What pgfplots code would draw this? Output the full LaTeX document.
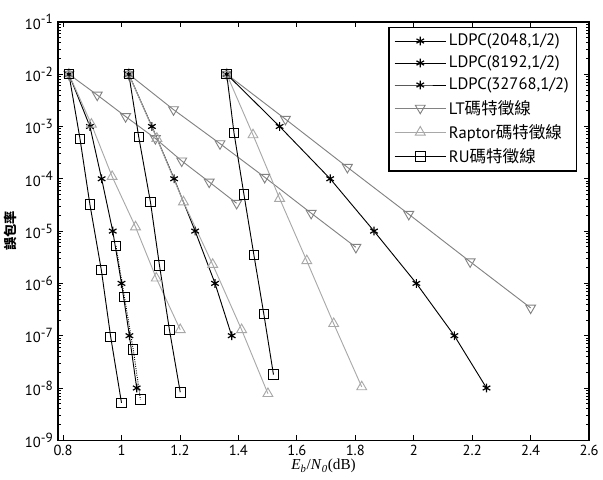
\documentclass[border=0pt]{standalone}
\usepackage{fontspec}
\setmainfont{PT Sans}
\newfontfamily\cjk{Noto Sans CJK TC}
\newfontfamily\serifit{Liberation Serif}
\usepackage{pgfplots}
\pgfplotsset{compat=1.18}
\definecolor{ltgray}{RGB}{130,130,130}
\definecolor{rpgray}{RGB}{168,168,168}
\begin{document}
\begin{tikzpicture}
\begin{axis}[name=ax, scale only axis, width=401pt, height=316pt,
  ymode=log, xmin=0.783, xmax=2.6, ymin=1e-9, ymax=1e-1,
  xtick={0.8,1,1.2,1.4,1.6,1.8,2,2.2,2.4,2.6},
  xticklabels={0.8,1,1.2,1.4,1.6,1.8,2,2.2,2.4,2.6},
  ytick={1e-9,1e-8,1e-7,1e-6,1e-5,1e-4,1e-3,1e-2,1e-1},
  /pgf/number format/assume math mode=true,
  log number format basis/.code 2 args={#1\textsuperscript{\fontsize{10}{10}\selectfont\pgfmathprintnumber[assume math mode=true]{#2}}},
  axis line style={line width=1.1pt},
  tick style={black, line width=0.6pt},
  major tick length=4pt, minor tick length=2.5pt,
  tick align=inside,
  tick label style={font=\fontsize{11}{12}\selectfont},
  xlabel={\fontsize{11.5}{12}\selectfont\serifit\textit{E}\textsubscript{\textit{b}}/\textit{N}\textsubscript{\textit{0}}(dB)},
  xlabel style={yshift=4pt},
  ylabel={\cjk\bfseries\fontsize{10}{11}\selectfont 誤包率},
  ylabel style={yshift=-1pt},
  legend style={at={(0.978,0.988)}, anchor=north east, draw=black, line width=1pt,
    font=\fontsize{12.5}{14}\selectfont, row sep=2.2pt, inner xsep=4pt, inner ysep=3pt},
  legend cell align=left,
  legend image code/.code={\draw[mark repeat=2,mark phase=2,#1] plot coordinates {(0cm,0cm) (0.68cm,0cm) (1.36cm,0cm)};},
]
% LDPC
\addplot[black, line width=0.7pt, mark=asterisk, mark size=3.3pt, mark options={line width=0.9pt}] coordinates {(0.82,1e-2) (0.892,1e-3) (0.932,1e-4) (0.970,1e-5) (1.000,1e-6) (1.027,1e-7) (1.052,1e-8)};
\addlegendentry{LDPC(2048,1/2)}
\addplot[black, line width=0.7pt, mark=asterisk, mark size=3.3pt, mark options={line width=0.9pt}] coordinates {(1.025,1e-2) (1.104,1e-3) (1.180,1e-4) (1.252,1e-5) (1.320,1e-6) (1.377,1e-7)};
\addlegendentry{LDPC(8192,1/2)}
\addplot[black, line width=0.7pt, mark=asterisk, mark size=3.3pt, mark options={line width=0.9pt}] coordinates {(1.36,1e-2) (1.541,1e-3) (1.714,1e-4) (1.864,1e-5) (2.009,1e-6) (2.139,1e-7) (2.249,1e-8)};
\addlegendentry{LDPC(32768,1/2)}
% LT
\addplot[ltgray, line width=0.7pt, mark=triangle, mark size=4.3pt, mark options={rotate=180}] coordinates {(0.82,1e-2) (0.917,4e-3) (1.014,1.55e-3) (1.116,5.9e-4) (1.206,2.2e-4) (1.300,8.7e-5) (1.394,3.4e-5)};
\addlegendentry{LT{\cjk 碼特徵線}}
% Raptor
\addplot[rpgray, line width=0.7pt, mark=triangle, mark size=4.3pt] coordinates {(0.82,1e-2) (0.897,1.1e-3) (0.968,1.1e-4) (1.048,1.2e-5) (1.119,1.26e-6) (1.201,1.3e-7)};
\addlegendentry{Raptor{\cjk 碼特徵線}}
% RU
\addplot[black, line width=0.7pt, mark=square, mark size=3.6pt] coordinates {(0.82,1e-2) (0.858,5.8e-4) (0.892,3.2e-5) (0.931,1.8e-6) (0.963,9.5e-8) (1.000,5.2e-9)};
\addlegendentry{RU{\cjk 碼特徵線}}
% others
\addplot[forget plot, ltgray, line width=0.7pt, mark=triangle, mark size=4.3pt, mark options={rotate=180}] coordinates {(1.025,1e-2) (1.178,2.1e-3) (1.337,4.7e-4) (1.490,1.07e-4) (1.649,2.2e-5) (1.802,4.9e-6)};
\addplot[forget plot, ltgray, line width=0.7pt, mark=triangle, mark size=4.3pt, mark options={rotate=180}] coordinates {(1.36,1e-2) (1.561,1.38e-3) (1.773,1.66e-4) (1.983,2.1e-5) (2.193,2.6e-6) (2.400,3.4e-7)};
\addplot[forget plot, rpgray, line width=0.7pt, mark=triangle, mark size=4.3pt] coordinates {(1.025,1e-2) (1.121,5.9e-4) (1.212,3.6e-5) (1.312,2.3e-6) (1.411,1.3e-7) (1.501,7.8e-9)};
\addplot[forget plot, rpgray, line width=0.7pt, mark=triangle, mark size=4.3pt] coordinates {(1.36,1e-2) (1.450,6.9e-4) (1.541,4.2e-5) (1.634,2.7e-6) (1.726,1.7e-7) (1.822,1.05e-8)};
\addplot[forget plot, black, line width=0.7pt, densely dotted, mark=square, mark size=3.6pt, mark options={solid}] coordinates {(0.981,5.2e-6) (1.010,5.5e-7) (1.040,5.5e-8) (1.065,6e-9)};
\addplot[forget plot, black, line width=0.7pt, mark=square, mark size=3.6pt] coordinates {(1.025,1e-2) (1.059,6.3e-4) (1.099,3.6e-5) (1.130,2.2e-6) (1.164,1.3e-7) (1.201,8.3e-9)};
\addplot[forget plot, black, line width=0.7pt, mark=square, mark size=3.6pt] coordinates {(1.36,1e-2) (1.385,7.5e-4) (1.419,5e-5) (1.453,3.5e-6) (1.487,2.6e-7) (1.520,1.8e-8)};
\end{axis}
\path ([xshift=-42.75pt,yshift=-29.25pt]ax.south west) rectangle ([xshift=8.25pt,yshift=16.5pt]ax.north east);
\end{tikzpicture}
\end{document}
